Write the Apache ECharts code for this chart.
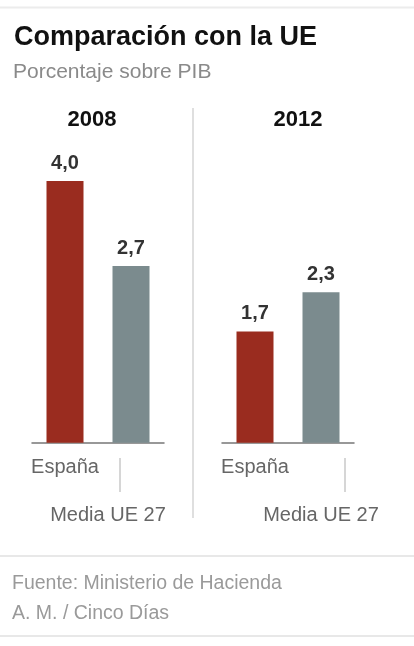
<!DOCTYPE html>
<html>
<head>
<meta charset="utf-8">
<script src="https://cdn.jsdelivr.net/npm/echarts@6/dist/echarts.min.js"></script>
<style>
html,body{margin:0;padding:0;background:#fff;}
#c{width:414px;height:646px;}
</style>
</head>
<body>
<div id="c"></div>
<script>
const titleText = 'Comparación con la UE';
const subtitleText = 'Porcentaje sobre PIB';
const years = ['2008', '2012'];
const categories = ['España', 'Media UE 27'];
const values2008 = [4.0, 2.7];
const values2012 = [1.7, 2.3];
const sourceLines = ['Fuente: Ministerio de Hacienda', 'A. M. / Cinco Días'];

const barColors = ['#9a2c1f', '#7b8b8e'];
const FONT = '"Liberation Sans", Arial, Helvetica, sans-serif';

const chart = echarts.init(document.getElementById('c'), null, {renderer: 'canvas'});

function fmtVal(v) { return v.toFixed(1).replace('.', ','); }

function makeAxis(gridIndex, shiftLeft) {
  return {
    type: 'category',
    gridIndex: gridIndex,
    data: categories,
    axisLine: {show: true, lineStyle: {color: '#777', width: 1.5}},
    axisTick: {show: false},
    axisLabel: {
      interval: 0,
      margin: 14,
      formatter: function (v, i) { return i === 0 ? '{a|' + v + '}' : '{b|' + v + '}'; },
      rich: {
        a: {fontFamily: FONT, fontSize: 20, color: '#666', lineHeight: 22},
        b: {fontFamily: FONT, fontSize: 20, color: '#666', lineHeight: 22, padding: [96, shiftLeft * 2, 0, 0]}
      }
    }
  };
}

function makeSeries(idx, values) {
  return {
    type: 'bar',
    xAxisIndex: idx,
    yAxisIndex: idx,
    barWidth: 37,
    data: values.map((v, i) => ({value: v, itemStyle: {color: barColors[i]}})),
    label: {
      show: true,
      position: 'top',
      distance: 8,
      formatter: p => fmtVal(p.value),
      fontFamily: FONT,
      fontSize: 20,
      fontWeight: 'bold',
      color: '#333'
    },
    silent: true
  };
}

function txt(text, left, top, size, weight, color, align) {
  return {text: text, left: left, top: top, padding: 0, textAlign: align || 'left',
    textStyle: {fontFamily: FONT, fontSize: size, fontWeight: weight, color: color}};
}

const option = {
  backgroundColor: '#fff',
  animation: false,
  title: [
    txt(titleText, 14, 24, 27, 'bold', '#111'),
    txt(subtitleText, 13, 62, 21, 'normal', '#8a8a8a'),
    txt(years[0], 92, 109, 22, 'bold', '#111', 'center'),
    txt(years[1], 298, 109, 22, 'bold', '#111', 'center'),
    txt(sourceLines[0], 12, 574, 19.5, 'normal', '#9a9a9a'),
    txt(sourceLines[1], 12, 604, 19.5, 'normal', '#9a9a9a')
  ],
  grid: [
    {left: 32, width: 132, top: 181, bottom: 203.3},
    {left: 222, width: 132, top: 181, bottom: 203.3}
  ],
  xAxis: [makeAxis(0, 23), makeAxis(1, 0)],
  yAxis: [
    {type: 'value', gridIndex: 0, min: 0, max: 4, show: false},
    {type: 'value', gridIndex: 1, min: 0, max: 4, show: false}
  ],
  series: [makeSeries(0, values2008), makeSeries(1, values2012)],
  graphic: [
    {type: 'line', shape: {x1: 0, y1: 7.5, x2: 414, y2: 7.5}, style: {stroke: '#ececec', lineWidth: 2}},
    {type: 'line', shape: {x1: 193, y1: 108, x2: 193, y2: 518}, style: {stroke: '#d4d4d4', lineWidth: 1.5}},
    {type: 'line', shape: {x1: 120, y1: 458, x2: 120, y2: 492}, style: {stroke: '#c8c8c8', lineWidth: 1.5}},
    {type: 'line', shape: {x1: 345, y1: 458, x2: 345, y2: 492}, style: {stroke: '#c8c8c8', lineWidth: 1.5}},
    {type: 'line', shape: {x1: 0, y1: 556, x2: 414, y2: 556}, style: {stroke: '#e8e8e8', lineWidth: 2}},
    {type: 'line', shape: {x1: 0, y1: 636, x2: 414, y2: 636}, style: {stroke: '#e8e8e8', lineWidth: 2}}
  ]
};

chart.setOption(option);
</script>
</body>
</html>
